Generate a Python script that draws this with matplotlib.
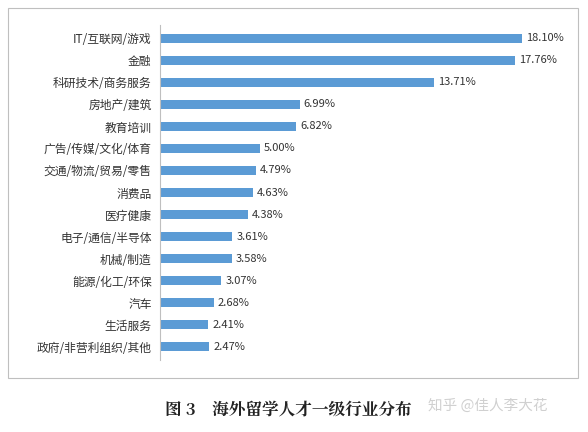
import matplotlib
matplotlib.use("Agg")
import matplotlib.pyplot as plt
from matplotlib.patches import Rectangle

plt.rcParams['font.family'] = ['Noto Sans CJK SC', 'DejaVu Sans']

categories = ["IT/互联网/游戏", "金融", "科研技术/商务服务", "房地产/建筑", "教育培训",
              "广告/传媒/文化/体育", "交通/物流/贸易/零售", "消费品", "医疗健康",
              "电子/通信/半导体", "机械/制造", "能源/化工/环保", "汽车", "生活服务",
              "政府/非营利组织/其他"]
values = [18.10, 17.76, 13.71, 6.99, 6.82, 5.00, 4.79, 4.63, 4.38, 3.61, 3.58, 3.07, 2.68, 2.41, 2.47]

W, H = 588, 432
fig = plt.figure(figsize=(W/100, H/100), dpi=100)
fig.patches.append(Rectangle((8/W, 1-378/H), 570/W, 370/H, transform=fig.transFigure,
                             fill=False, edgecolor='#bfbfbf', linewidth=0.8))
ax = fig.add_axes([160/W, 1-360/H, 400/W, 335/H])
y = list(range(len(categories)))
ax.barh(y, values, height=0.42, color='#5b9bd5')
for yi, v in zip(y, values):
    ax.text(v + 0.2, yi, f"{v:.2f}%", va='center', ha='left', fontsize=8, color='#333333')
ax.set_yticks(y)
ax.set_yticklabels(categories, fontsize=8.5, color='#333333')
ax.invert_yaxis()
ax.set_ylim(len(categories) - 0.4, -0.6)
ax.set_xlim(0, 20)
ax.set_xticks([])
for s in ['top', 'right', 'bottom']:
    ax.spines[s].set_visible(False)
ax.spines['left'].set_color('#bfbfbf')
ax.tick_params(axis='y', length=0, pad=6)

fig.text(165/W, 1-410/H, "图 3    海外留学人才一级行业分布", fontsize=12, fontweight='bold',
         family=['Noto Serif CJK SC', 'Noto Sans CJK SC'], va='center', ha='left', color='#222222')
fig.text(428/W, 1-406/H, "知乎 @佳人李大花", fontsize=10.5, color='#d0d0d0', va='center', ha='left')
fig.savefig("out.png", dpi=100)
